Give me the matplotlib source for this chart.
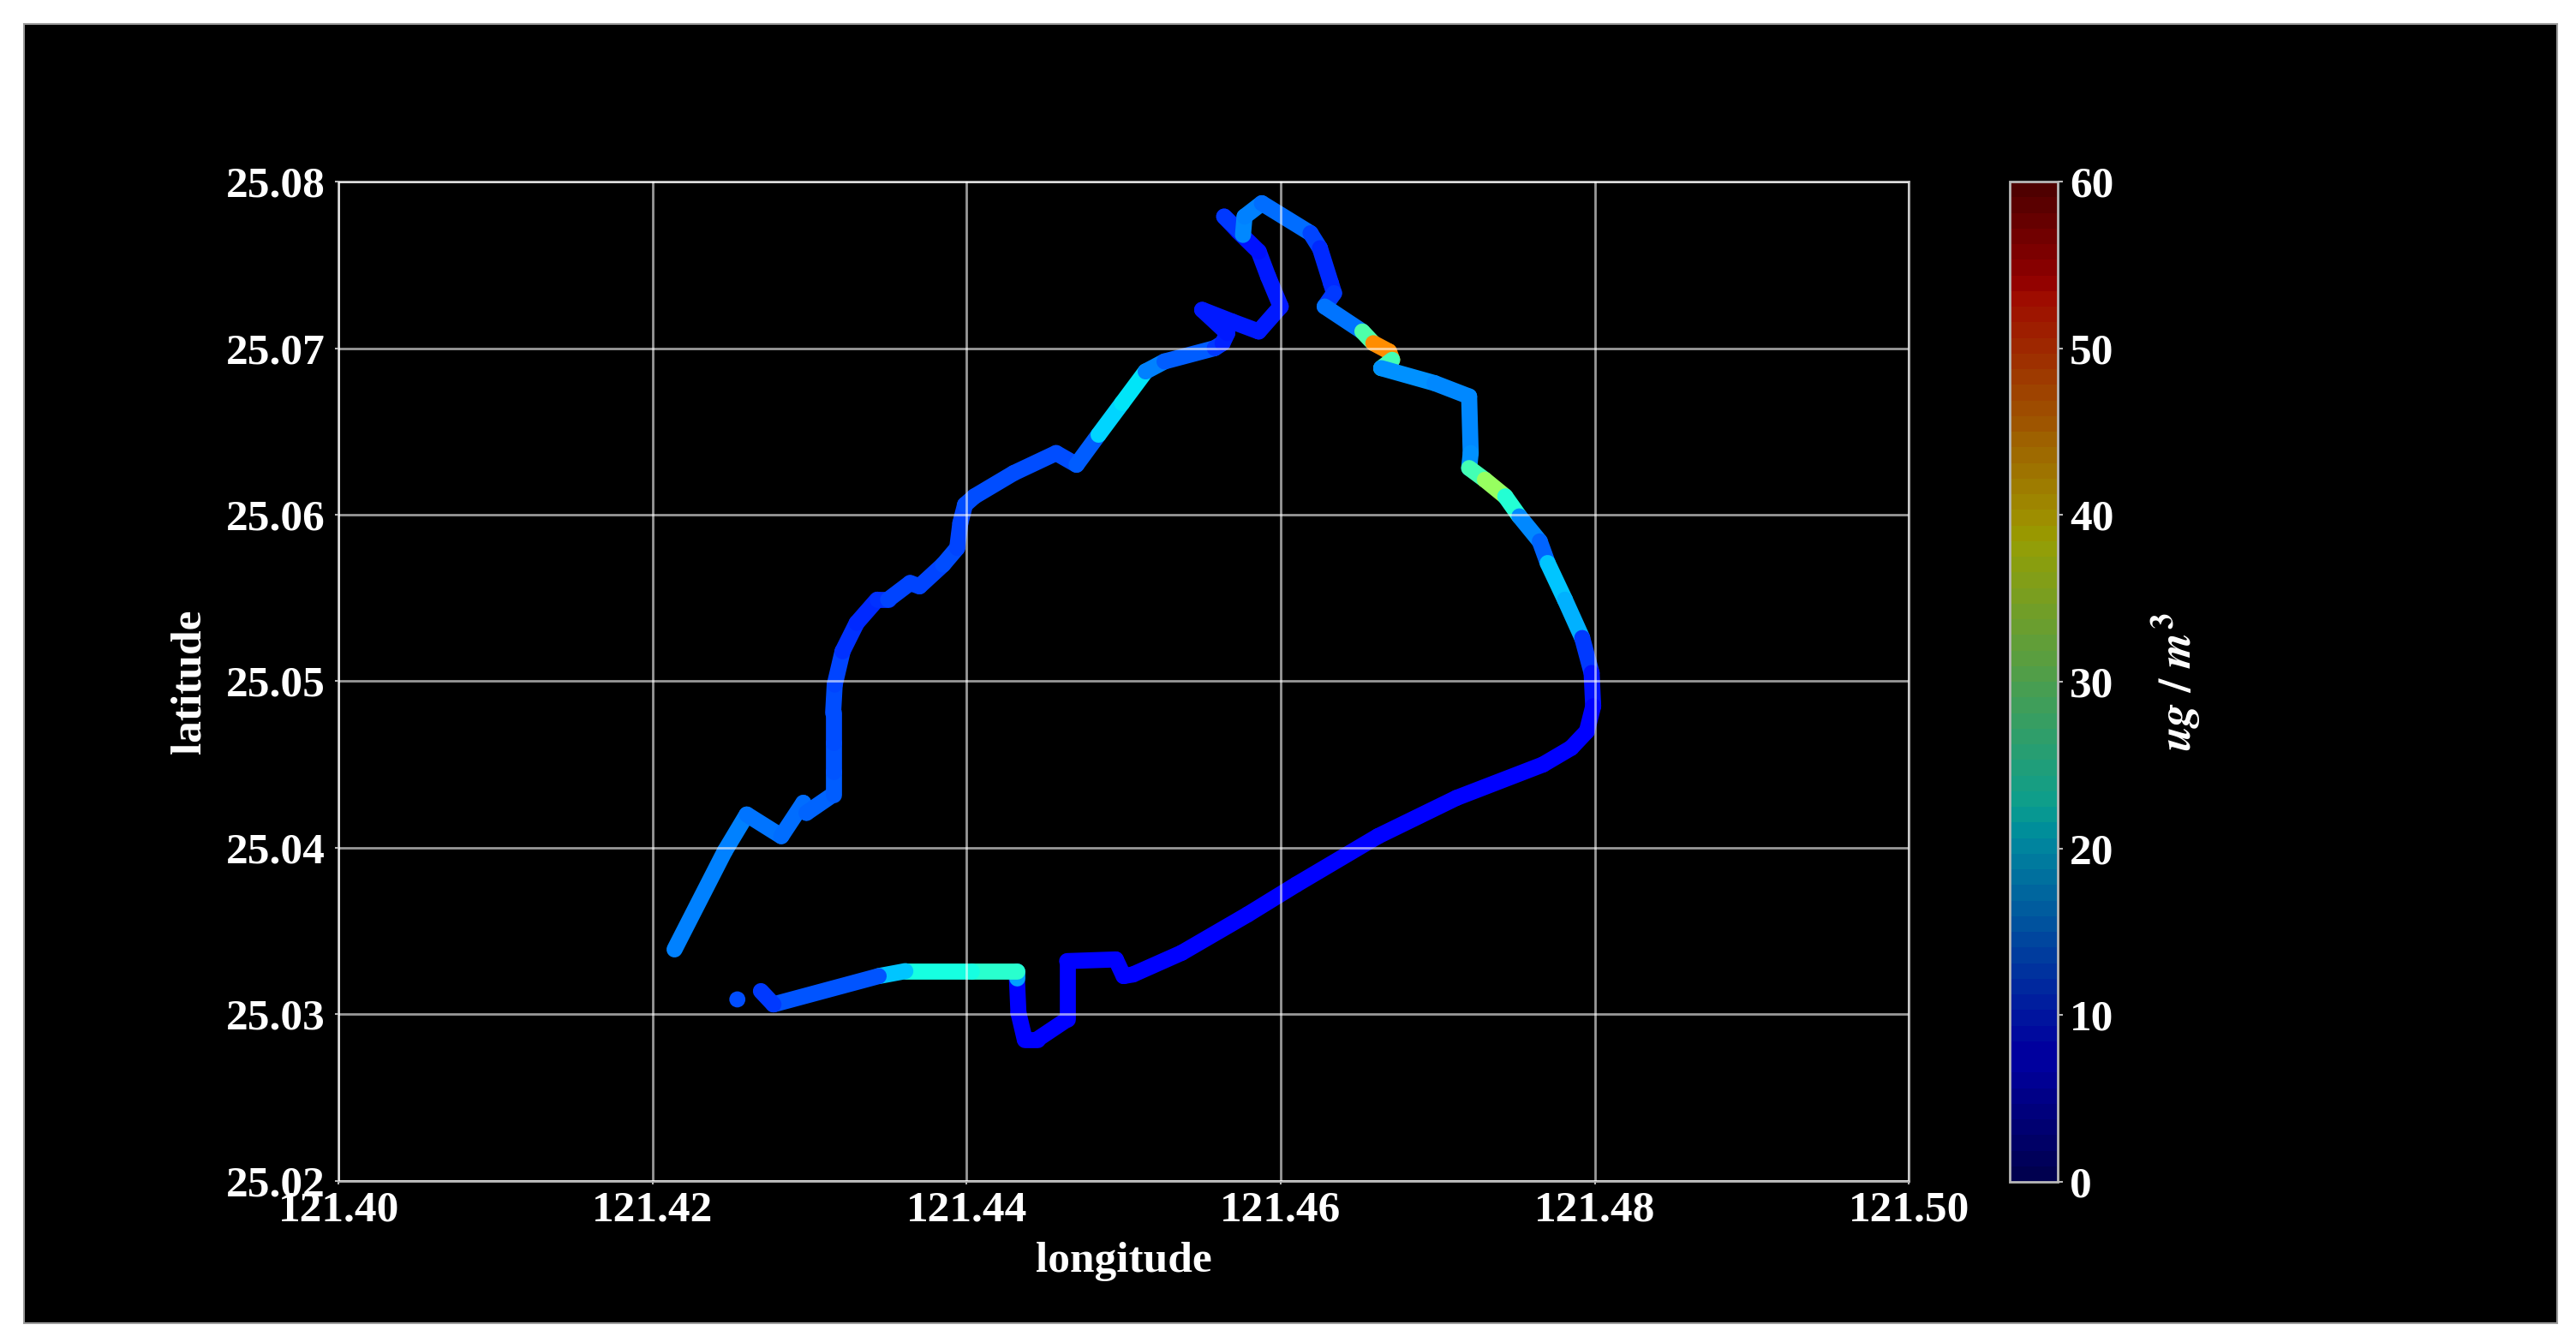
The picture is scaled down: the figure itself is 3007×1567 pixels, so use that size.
import matplotlib.pyplot as plt
import numpy as np
from matplotlib import colors
from matplotlib.collections import LineCollection
from matplotlib.patches import Rectangle
from matplotlib.cm import ScalarMappable

plt.rcParams['font.family'] = ['Liberation Serif', 'DejaVu Serif']
plt.rcParams['font.weight'] = 'bold'
plt.rcParams['axes.labelweight'] = 'bold'
plt.rcParams['mathtext.fontset'] = 'stix'

# GPS track, west end -> north -> east loop -> south leg
lon = [121.4214, 121.4246, 121.4260, 121.4282, 121.4296, 121.4298, 121.4315, 121.4315,
       121.4315, 121.4315, 121.4316, 121.4321, 121.4330, 121.4343, 121.4350, 121.4364,
       121.4370, 121.4385, 121.4394, 121.4396, 121.4399, 121.4405, 121.4430, 121.4457,
       121.4470, 121.4484, 121.4499, 121.4514, 121.4526, 121.4558, 121.4563, 121.4566,
       121.4550, 121.4569, 121.4586, 121.4600, 121.4592, 121.4586, 121.4573, 121.4564,
       121.4576, 121.4577, 121.4588, 121.4619, 121.4625, 121.4632, 121.4634, 121.4628,
       121.4652, 121.4659, 121.4669, 121.4671, 121.4664, 121.4698, 121.4720, 121.4721,
       121.4720, 121.4730, 121.4743, 121.4752, 121.4765, 121.4770, 121.4781, 121.4792,
       121.4798, 121.4799, 121.4795, 121.4785, 121.4767, 121.4712, 121.4662, 121.4610,
       121.4579, 121.4537, 121.4506, 121.4500, 121.4495, 121.4464, 121.4464, 121.4445,
       121.4437, 121.4433, 121.4432, 121.4432, 121.4403, 121.4361, 121.4344, 121.4277,
       121.4269]
lat = [25.0339, 25.0398, 25.0420, 25.0407, 25.0427, 25.0421, 25.0432, 25.0446,
       25.0463, 25.0481, 25.0498, 25.0518, 25.0535, 25.0549, 25.0549, 25.0559,
       25.0557, 25.0570, 25.0580, 25.0595, 25.0606, 25.0611, 25.0625, 25.0637,
       25.0630, 25.0648, 25.0667, 25.0686, 25.0692, 25.0700, 25.0703, 25.0709,
       25.0723, 25.0716, 25.0710, 25.0725, 25.0743, 25.0758, 25.0770, 25.0779,
       25.0768, 25.0779, 25.0787, 25.0769, 25.0760, 25.0739, 25.0733, 25.0725,
       25.0710, 25.0703, 25.0698, 25.0693, 25.0688, 25.0679, 25.0671, 25.0637,
       25.0628, 25.0621, 25.0611, 25.0599, 25.0584, 25.0571, 25.0549, 25.0526,
       25.0505, 25.0485, 25.0470, 25.0460, 25.0450, 25.0430, 25.0407, 25.0378,
       25.0360, 25.0337, 25.0324, 25.0323, 25.0333, 25.0332, 25.0297, 25.0285,
       25.0285, 25.0301, 25.0322, 25.0326, 25.0326, 25.0326, 25.0323, 25.0306,
       25.0314]
pm25 = [15, 15, 15, 14, 14, 14, 13, 13,
        12, 12, 12, 11, 10, 10, 11, 12,
        11, 12, 12, 11, 12, 12, 12, 12,
        12, 14, 26, 16, 14, 12, 10, 9,
        9, 9, 9, 9, 9, 9, 8, 6,
        16, 15, 15, 13, 10, 10, 10, 12,
        17, 36, 55, 36, 16, 16, 15, 16,
        16, 36, 28, 19, 12, 15, 23, 13,
        9, 8, 7, 7, 7, 7, 7, 7,
        7, 7, 7, 7, 7, 8, 7, 7,
        7, 7, 7, 27, 21, 24, 14, 11,
        11]

# lone fix just west of the south leg
dot_lon = [121.4254]
dot_lat = [25.0309]
dot_pm25 = [12]

xticks = [121.40, 121.42, 121.44, 121.46, 121.48, 121.50]
yticks = [25.02, 25.03, 25.04, 25.05, 25.06, 25.07, 25.08]
cbar_ticks = [0, 10, 20, 30, 40, 50, 60]

grid_col = '#b8b8b8'
norm = colors.Normalize(vmin=0, vmax=60)

fig = plt.figure(figsize=(30.07, 15.67), dpi=100, facecolor='white')
fig.add_artist(Rectangle((0.0093, 0.014), 0.9834, 0.9681, transform=fig.transFigure,
                         facecolor='black', edgecolor='#9a9a9a', linewidth=1.5, zorder=-1))

ax = fig.add_axes([0.1314, 0.1200, 0.6096, 0.7447])
ax.set_facecolor('black')

pts = np.column_stack([lon, lat])
segs = np.stack([pts[:-1], pts[1:]], axis=1)
vals = (np.array(pm25[:-1]) + np.array(pm25[1:])) / 2.0
lc = LineCollection(segs, cmap='jet', norm=norm, linewidths=13.5,
                    capstyle='round', joinstyle='round')
lc.set_array(vals)
ax.add_collection(lc)
ax.scatter(dot_lon, dot_lat, c=dot_pm25, cmap='jet', norm=norm, s=13.5 ** 2,
           edgecolors='none', zorder=2)

ax.set_xlim(121.40, 121.50)
ax.set_ylim(25.02, 25.08)
ax.set_xticks(xticks)
ax.set_yticks(yticks)
ax.set_xticklabels(['%.2f' % v for v in xticks])
ax.set_yticklabels(['%.2f' % v for v in yticks])
ax.set_axisbelow(False)
ax.grid(True, color='white', alpha=0.6, linewidth=2.0)
for s in ax.spines.values():
    s.set_color(grid_col)
    s.set_linewidth(2)
ax.tick_params(axis='both', colors='white', labelsize=37, length=3, width=1.5)
ax.tick_params(axis='both', color=grid_col)
ax.tick_params(axis='y', pad=8)
ax.tick_params(axis='x', pad=5)
ax.set_xlabel('longitude', color='white', fontsize=37, labelpad=10)
ax.set_ylabel('latitude', color='white', fontsize=37, labelpad=14)

# colour bar, drawn a little dimmer than the track
bar_cols = plt.get_cmap('jet')(np.linspace(0, 1, 64))[:, :3] * 0.62
bar_cmap = colors.ListedColormap(bar_cols)
cax = fig.add_axes([0.7802, 0.1193, 0.0186, 0.7454])
cax.set_facecolor('black')
sm = ScalarMappable(norm=norm, cmap=bar_cmap)
cb = fig.colorbar(sm, cax=cax, ticks=cbar_ticks)
cb.outline.set_edgecolor(grid_col)
cb.outline.set_linewidth(2)
cb.ax.tick_params(colors='white', labelsize=37, length=4, width=1.5, pad=6)
cb.ax.tick_params(color=grid_col)
cb.set_label(r'$ug\ /\ m^3$', color='white', fontsize=38, labelpad=30)

fig.savefig('out.png', dpi=100, facecolor='white')
